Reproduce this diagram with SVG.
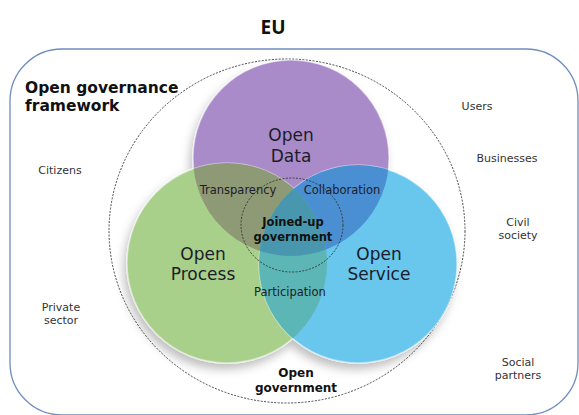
<svg xmlns="http://www.w3.org/2000/svg" width="579" height="415" viewBox="0 0 579 415">
<style>
.lbl{font-family:"DejaVu Sans","Verdana",sans-serif;font-size:11px;fill:#333;text-anchor:middle}
.big{font-family:"DejaVu Sans","Verdana",sans-serif;font-size:17px;fill:#1c1c2a;text-anchor:middle}
.mid{font-family:"DejaVu Sans","Verdana",sans-serif;font-size:11.5px;fill:#1c1c2a;text-anchor:middle}
.bold{font-family:"DejaVu Sans","Verdana",sans-serif;font-weight:bold;fill:#111;text-anchor:middle}
.head{font-family:"DejaVu Sans","Verdana",sans-serif;font-weight:bold;font-size:15.5px;fill:#111}
.dash{fill:none;stroke:#333;stroke-width:0.9;stroke-dasharray:2 1.4}
.rim{stroke:#fff;stroke-opacity:0.45;stroke-width:1.5}
</style>
<defs>
<clipPath id="cpP"><circle cx="291" cy="158" r="98"/></clipPath>
<clipPath id="cpG"><circle cx="227" cy="263" r="100"/></clipPath>
<filter id="sh" x="-20%" y="-20%" width="140%" height="140%">
<feDropShadow dx="-3" dy="6" stdDeviation="5" flood-color="#000" flood-opacity="0.25"/>
</filter>
</defs>
<rect width="579" height="415" fill="#fff"/>
<text x="273" y="34" font-family="'Open Sans','Noto Sans',sans-serif" font-weight="bold" font-size="19" fill="#111" text-anchor="middle">EU</text>
<g id="framework">
<rect x="10" y="49" width="568" height="366" rx="52" ry="52" fill="none" stroke="#6f8dbd" stroke-width="1.3"/>
<text class="head" x="25" y="93">Open governance</text>
<text class="head" x="25" y="111">framework</text>
</g>
<g id="open-government">
<ellipse class="dash" cx="287" cy="231" rx="178" ry="172"/>
<text class="bold" font-size="12" x="296" y="377">Open</text>
<text class="bold" font-size="12" x="296" y="392">government</text>
</g>
<g id="circles" filter="url(#sh)">
<g id="open-data"><circle class="rim" cx="291" cy="158" r="98" fill="#a98bc9"/></g>
<g id="open-process"><circle class="rim" cx="227" cy="263" r="100" fill="#a9d08b"/></g>
<g id="open-service"><circle class="rim" cx="358" cy="264" r="99" fill="#69c6ec"/></g>
</g>
<g id="overlaps">
<circle cx="227" cy="263" r="100" fill="#8e9a76" clip-path="url(#cpP)"/>
<circle cx="358" cy="264" r="99" fill="#4a8fd2" clip-path="url(#cpP)"/>
<circle cx="358" cy="264" r="99" fill="#5db6b6" clip-path="url(#cpG)"/>
<g clip-path="url(#cpP)"><circle cx="358" cy="264" r="99" fill="#4897ae" clip-path="url(#cpG)"/></g>
</g>
<g id="labels-inner">
<text class="big" x="291" y="141">Open</text>
<text class="big" x="291" y="162">Data</text>
<text class="big" x="203" y="260">Open</text>
<text class="big" x="203" y="280">Process</text>
<text class="big" x="379" y="260">Open</text>
<text class="big" x="379" y="280">Service</text>
<text class="mid" x="238" y="194">Transparency</text>
<text class="mid" x="342" y="194">Collaboration</text>
<text class="mid" x="290" y="296">Participation</text>
</g>
<g id="joined-up">
<ellipse class="dash" cx="292" cy="225" rx="51" ry="47"/>
<text class="bold" font-size="11.5" x="293" y="226">Joined-up</text>
<text class="bold" font-size="11.5" x="293" y="241">government</text>
</g>
<g id="stakeholders">
<g id="citizens"><text class="lbl" x="60" y="174">Citizens</text></g>
<g id="private-sector"><text class="lbl" x="61" y="311">Private</text><text class="lbl" x="61" y="324">sector</text></g>
<g id="users"><text class="lbl" x="477" y="110">Users</text></g>
<g id="businesses"><text class="lbl" x="507" y="162">Businesses</text></g>
<g id="civil-society"><text class="lbl" x="518" y="226">Civil</text><text class="lbl" x="518" y="239">society</text></g>
<g id="social-partners"><text class="lbl" x="518" y="366">Social</text><text class="lbl" x="518" y="379">partners</text></g>
</g>
<g id="connectors"/>
</svg>
